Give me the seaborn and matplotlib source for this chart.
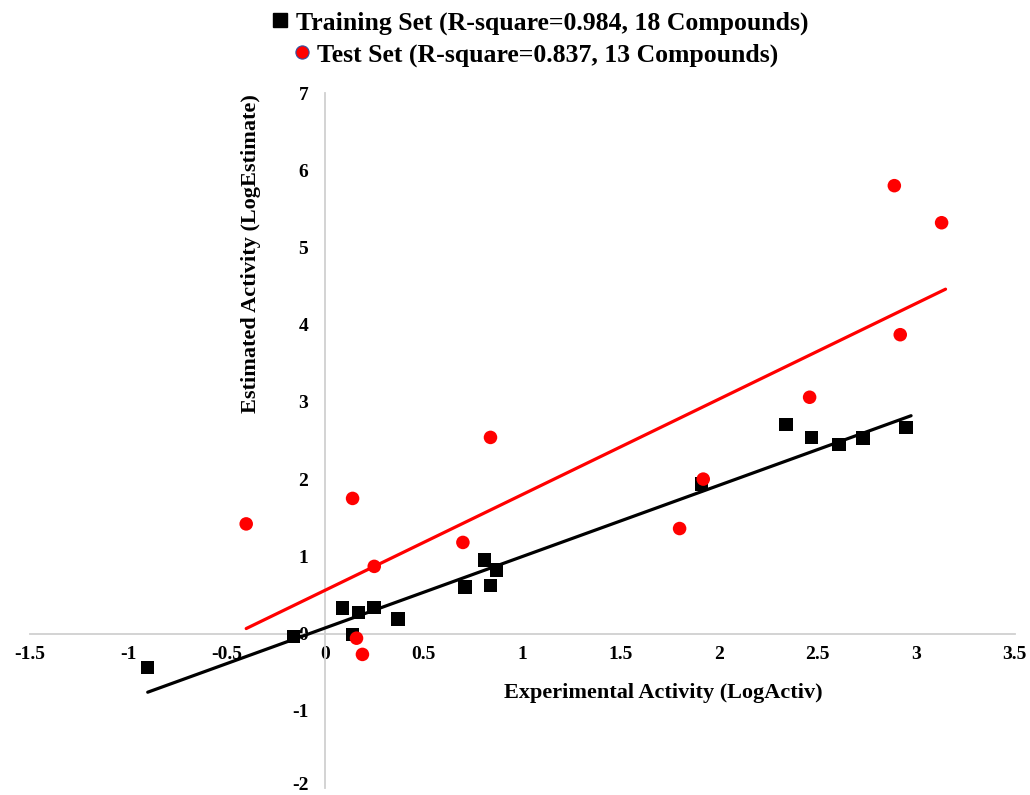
import matplotlib
matplotlib.use("Agg")
import matplotlib.pyplot as plt
import matplotlib.transforms as mtransforms
import seaborn as sns
import numpy as np
import pandas as pd
from matplotlib.lines import Line2D

# ---- data ----
train_x = [-0.90, -0.16, 0.09, 0.14, 0.17, 0.25, 0.37, 0.71, 0.81, 0.84, 0.87,
           1.91, 2.34, 2.47, 2.61, 2.73, 2.95]
train_y = [-0.44, -0.04, 0.33, -0.01, 0.27, 0.34, 0.19, 0.60, 0.95, 0.62, 0.82,
           1.94, 2.71, 2.54, 2.45, 2.53, 2.67]
test_x = [-0.40, 0.14, 0.25, 0.70, 0.16, 0.19, 0.84, 1.80, 1.92, 2.46, 2.89, 3.13, 2.92]
test_y = [1.42, 1.75, 0.87, 1.18, -0.06, -0.27, 2.54, 1.36, 2.00, 3.06, 5.80, 5.32, 3.87]

train_fit = {"slope": 0.924, "intercept": 0.072, "x_range": [-0.90, 2.975]}
test_fit = {"slope": 1.238, "intercept": 0.56, "x_range": [-0.40, 3.15]}

train_label = "Training Set (R-square=0.984, 18 Compounds)"
test_label = "Test Set (R-square=0.837, 13 Compounds)"
x_title = "Experimental Activity (LogActiv)"
y_title = "Estimated Activity (LogEstimate)"
x_ticks = [-1.5, -1, -0.5, 0, 0.5, 1, 1.5, 2, 2.5, 3, 3.5]
y_ticks = [-2, -1, 0, 1, 2, 3, 4, 5, 6, 7]

sns.set_theme(style="white")
plt.rcParams["font.family"] = ["Liberation Serif", "DejaVu Serif"]
plt.rcParams["font.weight"] = "bold"
plt.rcParams["text.color"] = "black"
plt.rcParams["xtick.color"] = "black"
plt.rcParams["ytick.color"] = "black"

W, H = 1030, 795
fig = plt.figure(figsize=(W / 100, H / 100), dpi=100)
ax = fig.add_axes([29.5 / W, 1 - 788 / H, (1014.5 - 29.5) / W, (788 - 93) / H])

train_df = pd.DataFrame({"x": train_x, "y": train_y})
test_df = pd.DataFrame({"x": test_x, "y": test_y})

def fit_df(f):
    xs = np.array(f["x_range"])
    return pd.DataFrame({"x": xs, "y": f["slope"] * xs + f["intercept"]})

sns.scatterplot(data=train_df, x="x", y="y", ax=ax, marker="s", s=95,
                color="black", edgecolor="none", linewidth=0, zorder=3)
sns.lineplot(data=fit_df(train_fit), x="x", y="y", ax=ax, color="black",
             linewidth=2.3, zorder=4)
sns.scatterplot(data=test_df, x="x", y="y", ax=ax, marker="o", s=95,
                color="#ff0000", edgecolor="none", linewidth=0, zorder=5)
sns.lineplot(data=fit_df(test_fit), x="x", y="y", ax=ax, color="#ff0000",
             linewidth=2.3, zorder=4)

ax.set_xlim(-1.5, 3.5)
ax.set_ylim(-2, 7)
ax.set_xticks(x_ticks)
ax.set_yticks(y_ticks)
ax.set_xticklabels([f"{t:g}" for t in x_ticks])
ax.set_yticklabels([f"{t:g}" for t in y_ticks])
ax.set_xlabel("")
ax.set_ylabel("")

for side in ["top", "right"]:
    ax.spines[side].set_visible(False)
ax.spines["left"].set_position(("data", 0))
ax.spines["bottom"].set_position(("data", 0))
for side in ["left", "bottom"]:
    ax.spines[side].set_color("#d0d0d0")
    ax.spines[side].set_linewidth(1.3)
    ax.spines[side].set_zorder(1)

ax.tick_params(axis="both", length=0, labelsize=14, labelcolor="black")
ax.tick_params(axis="x", pad=9)
ax.tick_params(axis="y", pad=12)
for lab in ax.get_xticklabels() + ax.get_yticklabels():
    lab.set_fontweight("bold")

# keep the bottom "-2" label inside the canvas (nudge up a few pixels)
bottom_lab = ax.get_yticklabels()[0]
bottom_lab.set_transform(bottom_lab.get_transform() +
                         mtransforms.ScaledTranslation(0, 5 / 100, fig.dpi_scale_trans))

fig.text(663 / W, 1 - 693 / H, x_title, ha="center", va="center",
         fontsize=16, fontweight="bold", color="black")
fig.text(251 / W, 1 - 254 / H, y_title, ha="center", va="center",
         rotation=90, fontsize=16, fontweight="bold", color="black")

h1 = Line2D([], [], marker="s", color="black", linestyle="none", markersize=9.5)
h2 = Line2D([], [], marker="o", color="#ff0000", linestyle="none", markersize=9.5,
            markeredgecolor="#3050a0", markeredgewidth=0.8)
leg_kw = dict(frameon=False, handletextpad=0.2, handlelength=0.8,
              borderaxespad=0, borderpad=0, loc="center", labelcolor="black",
              prop={"family": "Liberation Serif", "weight": "bold", "size": 18.5})
leg1 = fig.legend([h1], [train_label], bbox_to_anchor=(539 / W, 1 - 23 / H), **leg_kw)
leg2 = fig.legend([h2], [test_label], bbox_to_anchor=(535 / W, 1 - 55 / H), **leg_kw)

fig.savefig("out.png", dpi=100, facecolor="white")
